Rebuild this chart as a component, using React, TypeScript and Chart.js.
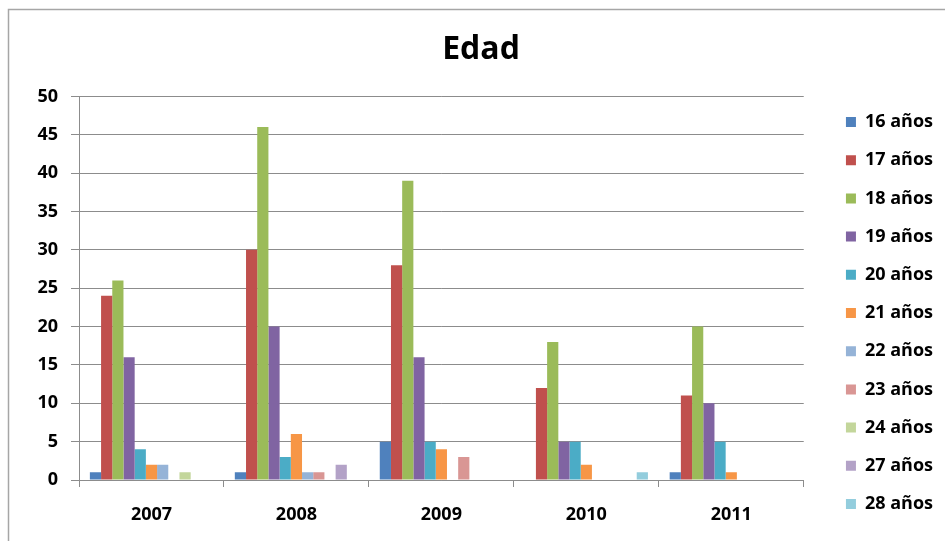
import React, { useEffect, useRef } from "react";
import { Chart, registerables } from "chart.js";

Chart.register(...registerables);

const categories = ["2007", "2008", "2009", "2010", "2011"];
const seriesNames = ["16 años", "17 años", "18 años", "19 años", "20 años", "21 años", "22 años", "23 años", "24 años", "27 años", "28 años"];
const s16 = [1, 1, 5, 0, 1];
const s17 = [24, 30, 28, 12, 11];
const s18 = [26, 46, 39, 18, 20];
const s19 = [16, 20, 16, 5, 10];
const s20 = [4, 3, 5, 5, 5];
const s21 = [2, 6, 4, 2, 1];
const s22 = [2, 1, 0, 0, 0];
const s23 = [0, 1, 3, 0, 0];
const s24 = [1, 0, 0, 0, 0];
const s27 = [0, 2, 0, 0, 0];
const s28 = [0, 0, 0, 1, 0];
const seriesValues = [s16, s17, s18, s19, s20, s21, s22, s23, s24, s27, s28];
const seriesColors = ["#4F81BD", "#C0504D", "#9BBB59", "#8064A2", "#4BACC6", "#F79646", "#95B3D7", "#D99694", "#C3D69B", "#B3A2C7", "#93CDDD"];
const yTicks = [0, 5, 10, 15, 20, 25, 30, 35, 40, 45, 50];

const FONT = "'Open Sans', 'DejaVu Sans', sans-serif";
const PAD_BOTTOM = 9.8;
const PAD_LEFT = 19;

const framePlugin = {
  id: "frame",
  beforeDraw(chart: any) {
    const ctx = chart.ctx;
    ctx.save();
    ctx.fillStyle = "#ffffff";
    ctx.fillRect(0, 0, chart.width, chart.height);
    ctx.strokeStyle = "#a6a6a6";
    ctx.lineWidth = 1.5;
    ctx.beginPath();
    ctx.moveTo(8.5, 541);
    ctx.lineTo(8.5, 9.5);
    ctx.lineTo(chart.width, 9.5);
    ctx.stroke();
    ctx.restore();
  },
};

export default function App() {
  const ref = useRef<HTMLCanvasElement | null>(null);
  useEffect(() => {
    if (!ref.current) return;
    const chart = new Chart(ref.current, {
      type: "bar",
      data: {
        labels: categories,
        datasets: seriesNames.map((name, i) => ({
          label: name,
          data: seriesValues[i],
          backgroundColor: seriesColors[i],
          borderWidth: 0,
          categoryPercentage: 0.85,
          barPercentage: 1,
        })),
      },
      plugins: [framePlugin],
      options: {
        animation: false,
        responsive: false,
        layout: { padding: { left: PAD_LEFT, right: 2, top: 10, bottom: PAD_BOTTOM } },
        font: { family: FONT },
        plugins: {
          tooltip: { enabled: false },
          title: {
            display: true,
            text: "Edad",
            color: "#000",
            font: { family: FONT, size: 32, weight: "bold" },
            padding: { top: 21, bottom: 27 },
          },
          legend: {
            display: true,
            position: "right",
            align: "end",
            labels: {
              boxWidth: 10,
              boxHeight: 10,
              padding: 20.2,
              color: "#000",
              font: { family: FONT, size: 18, weight: "bold" },
            },
          },
        },
        scales: {
          x: {
            grid: { drawOnChartArea: false, drawTicks: true, tickLength: 7, offset: true, color: "#8c8c8c" },
            border: { display: true, color: "#8c8c8c" },
            ticks: { color: "#000", padding: 17, font: { family: FONT, size: 18, weight: "bold" } },
            afterFit: (s: any) => { s.height = 543 - PAD_BOTTOM - 480; },
          },
          y: {
            min: 0,
            max: 50,
            afterBuildTicks: (s: any) => { s.ticks = yTicks.map((v) => ({ value: v })); },
            grid: { color: "#8c8c8c", tickLength: 8 },
            border: { display: true, color: "#8c8c8c" },
            ticks: { color: "#000", padding: 13, font: { family: FONT, size: 18, weight: "bold" } },
            afterFit: (s: any) => { s.width = 79 - PAD_LEFT; },
          },
          yR: {
            type: "linear",
            position: "right",
            display: true,
            grid: { display: false },
            border: { display: false },
            ticks: { display: false },
            afterFit: (s: any) => { s.width = 22; },
          },
        },
      } as any,
    });
    return () => chart.destroy();
  }, []);
  return (
    <div style={{ position: "absolute", left: 0, top: 0, width: 945, height: 543 }}>
      <canvas ref={ref} width={945} height={543} style={{ width: 945, height: 543, display: "block" }} />
    </div>
  );
}
